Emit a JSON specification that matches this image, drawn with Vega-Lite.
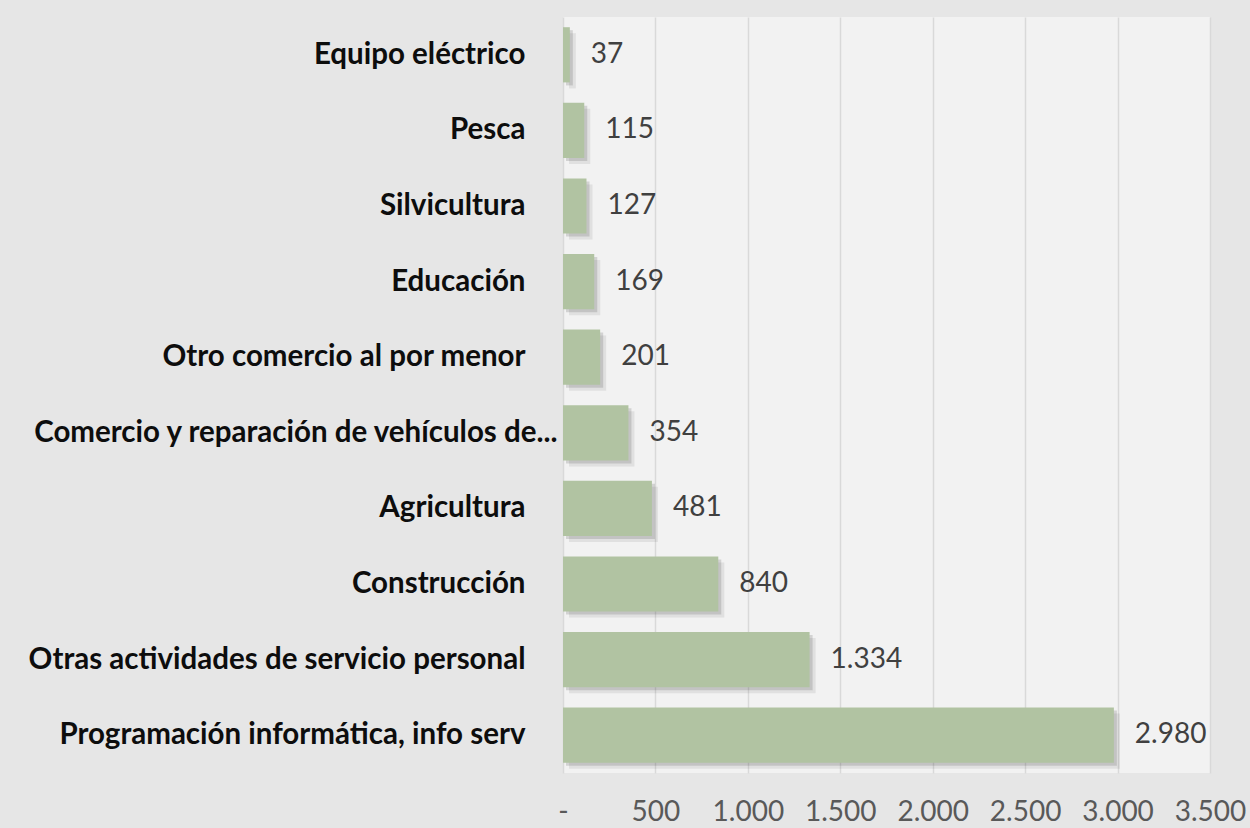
{
  "$schema": "https://vega.github.io/schema/vega-lite/v6.json",
  "width": 647,
  "height": 756,
  "autosize": "none",
  "padding": {"left": 563, "top": 17, "right": 40, "bottom": 55},
  "background": "#e6e6e6",
  "view": {"fill": "#f2f2f2", "stroke": null},
  "config": {
    "locale": {"number": {"decimal": ",", "thousands": ".", "grouping": [3], "currency": ["", " €"]}}
  },
  "data": {
    "values": [
      {"sector": "Equipo eléctrico", "value": 37},
      {"sector": "Pesca", "value": 115},
      {"sector": "Silvicultura", "value": 127},
      {"sector": "Educación", "value": 169},
      {"sector": "Otro comercio al por menor", "value": 201},
      {"sector": "Comercio y reparación de vehículos de...", "value": 354},
      {"sector": "Agricultura", "value": 481},
      {"sector": "Construcción", "value": 840},
      {"sector": "Otras actividades de servicio personal", "value": 1334},
      {"sector": "Programación informática, info serv", "value": 2980}
    ]
  },
  "encoding": {
    "y": {
      "field": "sector",
      "type": "nominal",
      "sort": "x",
      "scale": {"paddingInner": 0.27, "paddingOuter": 0.135},
      "axis": {
        "title": null,
        "ticks": false,
        "domain": false,
        "labelFont": "Lato",
        "labelFontWeight": "bold",
        "labelFontSize": 29.5,
        "labelColor": "#0d0d0d",
        "labelPadding": {"condition": {"test": "datum.value == 'Comercio y reparación de vehículos de...'", "value": 6}, "value": 38},
        "labelLimit": 700
      }
    },
    "x": {
      "field": "value",
      "type": "quantitative",
      "scale": {"domain": [0, 3500]},
      "axis": {
        "title": null,
        "values": [0, 500, 1000, 1500, 2000, 2500, 3000, 3500],
        "format": ",d",
        "labelExpr": "datum.value == 0 ? '-' : datum.label",
        "labelOverlap": false,
        "labelFlush": false,
        "ticks": false,
        "domain": false,
        "grid": true,
        "gridColor": "#d9d9d9",
        "gridWidth": 1.5,
        "labelFont": "Lato",
        "labelFontSize": 28,
        "labelColor": "#595959",
        "labelPadding": 25,
        "labelBaseline": "top"
      }
    }
  },
  "layer": [
    {"mark": {"type": "bar", "color": "#404040", "opacity": 0.1, "xOffset": 6, "yOffset": 6}},
    {"mark": {"type": "bar", "color": "#404040", "opacity": 0.18, "xOffset": 3, "yOffset": 3}},
    {"mark": {"type": "bar", "color": "#b1c3a2"}},
    {
      "mark": {"type": "text", "align": "left", "dx": 21, "font": "Lato", "fontSize": 28, "color": "#404040"},
      "encoding": {"text": {"field": "value", "type": "quantitative", "format": ",d"}}
    }
  ]
}
